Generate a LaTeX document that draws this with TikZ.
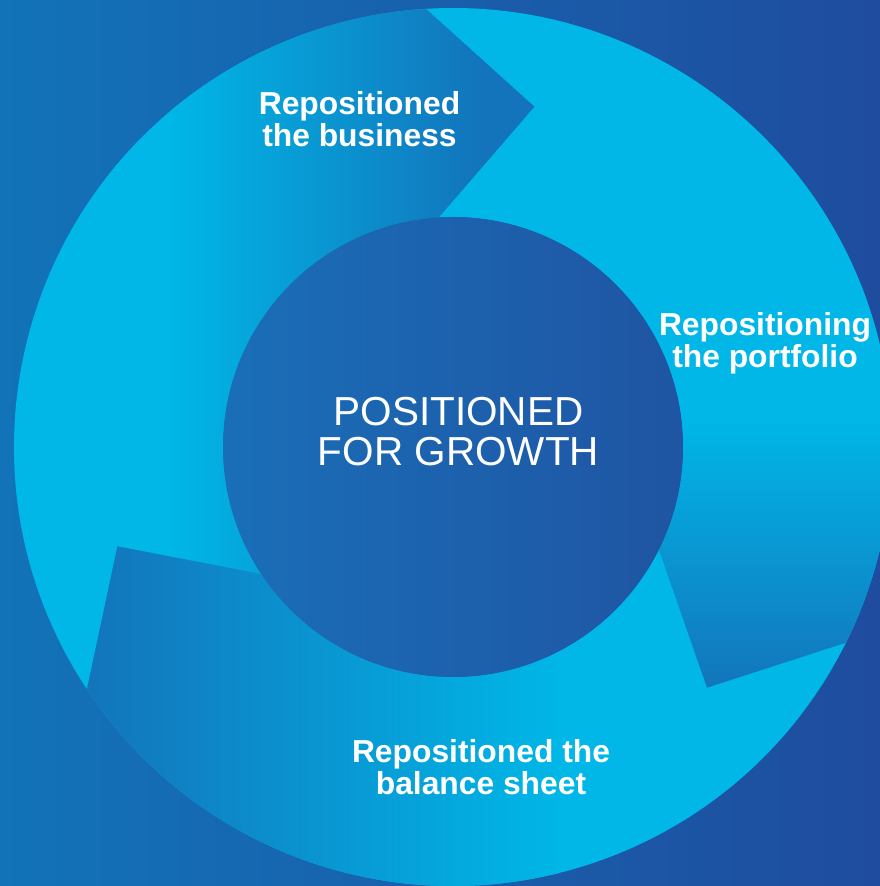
\documentclass[tikz,border=0pt]{standalone}
\usepackage{fontspec}
\setmainfont{Liberation Sans}

\definecolor{bgleft}{HTML}{1273B9}
\definecolor{bgright}{HTML}{1F4C9E}
\definecolor{segcyan}{HTML}{00B7E7}
\definecolor{segdark}{HTML}{1374BB}
\definecolor{hubleft}{HTML}{1A6EB8}
\definecolor{hubright}{HTML}{1F55A3}

%% one chevron of the ring: from angle #1 clockwise to angle #2
\newcommand{\segpath}[2]{(#1:439pt) arc[start angle=#1,end angle=#2,radius=439pt]
  -- (#2-17:350pt) -- (#2:230pt) arc[start angle=#2,end angle=#1,radius=230pt]
  -- (#1-17:350pt) -- cycle}

\begin{document}
\begin{tikzpicture}[x=1pt,y=1pt] %% tikz
	\tikzstyle{tag}=[text=white,font=\bfseries\fontsize{31.8}{32}\selectfont,align=center,inner sep=0pt,anchor=north];
	\useasboundingbox (-453,-439) rectangle (427,447);
	\clip (-453,-439) rectangle (427,447);
	\shade[left color=bgleft,right color=bgright] (-453,-439) rectangle (427,447);
	%% left chevron
	\fill[segcyan] \segpath{213.5}{93.5};
	\begin{scope}
		\clip \segpath{213.5}{93.5};
		\shade[left color=segcyan,right color=segdark] (-283,-450) rectangle (30,450);
		\fill[segdark] (30,-450) rectangle (90,450);
	\end{scope}
	%% right chevron
	\fill[segcyan] \segpath{93.5}{-26.5};
	\begin{scope}
		\clip \segpath{93.5}{-26.5};
		\shade[top color=segcyan,bottom color=segdark] (-50,-245) rectangle (450,27);
	\end{scope}
	%% bottom chevron
	\fill[segcyan] \segpath{-26.5}{-146.5};
	\begin{scope}
		\clip \segpath{-26.5}{-146.5};
		\shade[left color=segdark,right color=segcyan] (-370,-450) rectangle (107,-90);
	\end{scope}
	%% hub
	\node[circle,minimum size=460pt,inner sep=0pt,left color=hubleft,right color=hubright] (hub) at (0,0) {};
	\node[text=white,font=\fontsize{40.5}{40}\selectfont,align=center,inner sep=0pt,anchor=north] (growth) at (5.5,50) {POSITIONED\\FOR GROWTH};
	%% labels
	\node[tag] (business) at (-93.5,356) {Repositioned\\the business};
	\node[tag] (portfolio) at (312,135) {Repositioning\\the portfolio};
	\node[tag] (balance) at (28,-292) {Repositioned the\\balance sheet};
\end{tikzpicture}
\end{document}
